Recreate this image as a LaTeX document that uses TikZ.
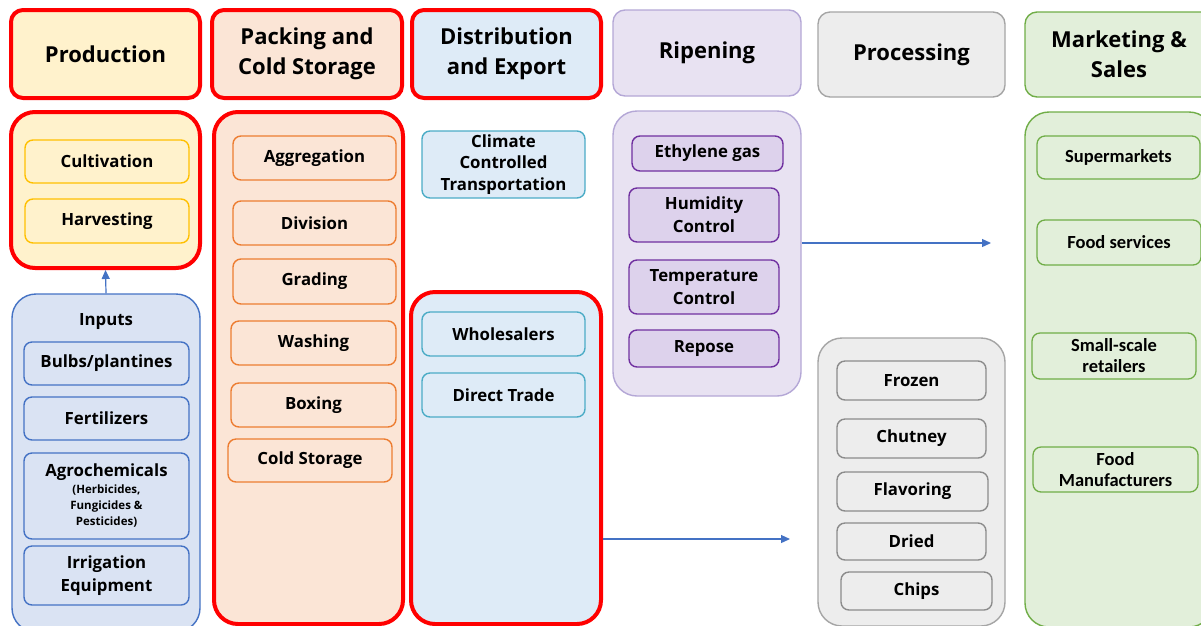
\documentclass[tikz,border=0pt]{standalone}
\usepackage{fontspec}
\setmainfont{Open Sans}
\newfontfamily\calfont{Carlito}
\usetikzlibrary{arrows.meta}
\definecolor{redb}{HTML}{FF0000}
\definecolor{prodf}{HTML}{FFF2CC}
\definecolor{prodb}{HTML}{FFC000}
\definecolor{packf}{HTML}{FBE5D6}
\definecolor{packb}{HTML}{ED7D31}
\definecolor{distf}{HTML}{DEEBF7}
\definecolor{distb}{HTML}{4BACC6}
\definecolor{inpf}{HTML}{DAE3F3}
\definecolor{inpb}{HTML}{4472C4}
\definecolor{ripf}{HTML}{E8E2F2}
\definecolor{ripb}{HTML}{B4A7D6}
\definecolor{ripif}{HTML}{DDD2EC}
\definecolor{ripib}{HTML}{7030A0}
\definecolor{procf}{HTML}{EDEDED}
\definecolor{procb}{HTML}{A5A5A5}
\definecolor{procib}{HTML}{8C8C8C}
\definecolor{mktf}{HTML}{E2EFDA}
\definecolor{mktb}{HTML}{70AD47}
\definecolor{arrc}{HTML}{4472C4}
\tikzset{
  hdr/.style={rounded corners=12pt, align=center, font=\bfseries\fontsize{22}{30}\selectfont, inner sep=0pt},
  redhdr/.style={hdr, draw=redb, line width=4pt},
  body/.style={rounded corners=24pt, inner sep=0pt},
  redbody/.style={body, draw=redb, line width=4pt},
  inner/.style={rounded corners=8pt, align=center, font=\bfseries\fontsize{16.8}{23}\selectfont, inner sep=0pt, line width=1.4pt},
  mkin/.style={rounded corners=8pt, align=center, font=\calfont\bfseries\fontsize{18.5}{21}\selectfont, inner sep=0pt, line width=1.3pt, draw=mktb, fill=mktf},
  arr/.style={draw=arrc, line width=1.2pt, -{Triangle[length=9pt,width=8pt]}}
}
\begin{document}
\begin{tikzpicture}[x=1pt,y=-1pt]
\useasboundingbox (0,0) rectangle (1201,625);
\clip (0,0) rectangle (1201,625);
% headers
\node[redhdr, fill=prodf, minimum width=189, minimum height=88] (hprod) at (105.5,54) {Production};
\node[redhdr, fill=packf, minimum width=190, minimum height=88] (hpack) at (307,54) {Packing and\\Cold Storage};
\node[redhdr, fill=distf, minimum width=189, minimum height=88] (hdist) at (506.5,54) {Distribution\\and Export};
\node[hdr, draw=ripb, line width=1.4pt, fill=ripf, minimum width=188, minimum height=86] (hrip) at (707,53) {\raisebox{-2pt}{Ripening}};
\node[hdr, draw=procb, line width=1.4pt, fill=procf, minimum width=187, minimum height=85] (hproc) at (911.5,54.5) {\raisebox{-2pt}{Processing}};
\node[hdr, draw=mktb, line width=1.4pt, fill=mktf, minimum width=188, minimum height=85] (hmkt) at (1119,54.5) {Marketing \&\\Sales};
% bodies
\node[redbody, fill=prodf, minimum width=189, minimum height=156] (bprod) at (105.5,190) {};
\node[body, draw=inpb, line width=1.4pt, fill=inpf, minimum width=188, minimum height=338] (binputs) at (106,463) {};
\node[redbody, fill=packf, minimum width=189, minimum height=512] (bpack) at (308.5,368) {};
\node[redbody, fill=distf, minimum width=190, minimum height=332] (bdist) at (506,458) {};
\node[body, draw=ripb, line width=1.4pt, fill=ripf, minimum width=188, minimum height=285] (brip) at (707,253.5) {};
\node[body, draw=procb, line width=1.4pt, fill=procf, minimum width=187, minimum height=288] (bproc) at (911.5,482) {};
\node[body, draw=mktb, line width=1.4pt, fill=mktf, minimum width=188, minimum height=515] (bmkt) at (1119,369.5) {};
% production
\node[inner, draw=prodb, fill=prodf, minimum width=164, minimum height=43] (cult) at (107,161.5) {Cultivation};
\node[inner, draw=prodb, fill=prodf, minimum width=164, minimum height=44] (harv) at (107,221) {Harvesting};
% inputs
\node[font=\bfseries\fontsize{16.8}{20}\selectfont] (inptitle) at (106,322) {Inputs};
\node[inner, draw=inpb, fill=inpf, minimum width=165, minimum height=43] (bulbs) at (106.5,363.5) {Bulbs/plantines};
\node[inner, draw=inpb, fill=inpf, minimum width=165, minimum height=43] (fert) at (106.5,418.5) {Fertilizers};
\node[inner, draw=inpb, fill=inpf, minimum width=165, minimum height=86] (agro) at (106.5,496) {Agrochemicals\\[-6pt]{\fontsize{11.5}{16}\selectfont (Herbicides,}\\[-7pt]{\fontsize{11.5}{16}\selectfont Fungicides \&}\\[-7pt]{\fontsize{11.5}{16}\selectfont Pesticides)}};
\node[inner, draw=inpb, fill=inpf, minimum width=165, minimum height=59] (irrig) at (106.5,575.5) {Irrigation\\Equipment};
% packing
\node[inner, draw=packb, fill=packf, minimum width=163, minimum height=44] (aggr) at (314.5,158) {Aggregation};
\node[inner, draw=packb, fill=packf, minimum width=163, minimum height=44] (divi) at (314.5,223) {Division};
\node[inner, draw=packb, fill=packf, minimum width=163, minimum height=45] (grad) at (314.5,281.5) {Grading};
\node[inner, draw=packb, fill=packf, minimum width=165, minimum height=44] (wash) at (313.5,343) {Washing};
\node[inner, draw=packb, fill=packf, minimum width=165, minimum height=44] (boxi) at (313.5,405) {Boxing};
\node[inner, draw=packb, fill=packf, minimum width=164, minimum height=43] (cold) at (310,460.5) {Cold Storage};
% distribution
\node[inner, draw=distb, fill=distf, minimum width=163, minimum height=67, font=\bfseries\fontsize{16.8}{21.5}\selectfont] (clim) at (503.5,164.5) {Climate\\Controlled\\Transportation};
\node[inner, draw=distb, fill=distf, minimum width=163, minimum height=44] (whol) at (503.5,334) {Wholesalers};
\node[inner, draw=distb, fill=distf, minimum width=163, minimum height=44] (dire) at (503.5,395) {Direct Trade};
% ripening
\node[inner, draw=ripib, fill=ripif, minimum width=151, minimum height=35] (ethy) at (707.5,153.5) {Ethylene gas};
\node[inner, draw=ripib, fill=ripif, minimum width=150, minimum height=54] (humi) at (704,215) {Humidity\\Control};
\node[inner, draw=ripib, fill=ripif, minimum width=150, minimum height=54] (temp) at (704,287) {Temperature\\Control};
\node[inner, draw=ripib, fill=ripif, minimum width=150, minimum height=37] (repo) at (704,348.5) {Repose};
% processing
\node[inner, draw=procib, fill=procf, minimum width=149, minimum height=39] (froz) at (911.5,380.5) {Frozen};
\node[inner, draw=procib, fill=procf, minimum width=149, minimum height=39] (chut) at (911.5,438.5) {Chutney};
\node[inner, draw=procib, fill=procf, minimum width=151, minimum height=39] (flav) at (912.5,491.5) {Flavoring};
\node[inner, draw=procib, fill=procf, minimum width=149, minimum height=37] (drie) at (911.5,541.5) {Dried};
\node[inner, draw=procib, fill=procf, minimum width=151, minimum height=38] (chip) at (916.5,591) {Chips};
% marketing
\node[mkin, minimum width=163, minimum height=43] (supe) at (1118.5,157.5) {Supermarkets};
\node[mkin, minimum width=164, minimum height=45] (fserv) at (1119,242.5) {Food services};
\node[mkin, minimum width=164, minimum height=46] (smal) at (1114,356) {Small-scale\\retailers};
\node[mkin, minimum width=165, minimum height=45] (manu) at (1115.5,469.5) {Food\\Manufacturers};
% connectors
\draw[arr] (binputs.north) -- (bprod.south);
\coordinate (ra) at (991,243);
\draw[arr] (brip.east |- ra) -- (ra);
\coordinate (pa) at (790,539);
\draw[arr] (bdist.east |- pa) -- (pa);
\end{tikzpicture}
\end{document}
